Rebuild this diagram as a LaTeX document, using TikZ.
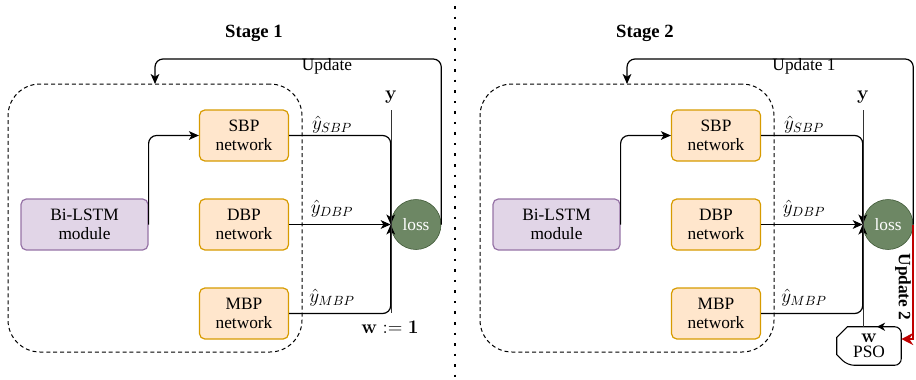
\documentclass[tikz,border=0pt]{standalone}
\usepackage[no-math]{fontspec}
\setmainfont{Liberation Serif}
\usetikzlibrary{arrows.meta}

\definecolor{netfill}{HTML}{FFE6CC}
\definecolor{netline}{HTML}{D79B00}
\definecolor{lstmfill}{HTML}{E1D5E7}
\definecolor{lstmline}{HTML}{9673A6}
\definecolor{lossfill}{HTML}{6D8764}
\definecolor{lossline}{HTML}{3A5431}
\definecolor{updred}{HTML}{C00000}

\tikzset{
  body/.style={font=\fontsize{13}{14.5}\selectfont},
  netbox/.style={draw=netline, fill=netfill, line width=0.9pt, rounded corners=4pt,
    minimum width=66.75pt, minimum height=38.25pt, align=center, inner sep=1pt, body},
  lstmbox/.style={draw=lstmline, fill=lstmfill, line width=0.9pt, rounded corners=4pt,
    minimum width=95.25pt, minimum height=38.25pt, align=center, inner sep=1pt, body},
  lossnode/.style={circle, draw=lossline, fill=lossfill, minimum size=37.5pt,
    inner sep=0pt, text=white, body},
  container/.style={draw, dashed, dash pattern=on 3pt off 2.2pt, line width=0.75pt,
    rounded corners=24pt},
  arr/.style={draw, line width=0.9pt, -{Stealth[length=7.5pt,width=6.5pt,inset=2pt]}},
  thinline/.style={draw, line width=0.75pt, draw=black!80},
  lbl/.style={body, inner sep=0pt},
  boldlbl/.style={font=\fontsize{15}{17}\selectfont, inner sep=0pt},
  mlbl/.style={font=\fontsize{14}{16}\selectfont, inner sep=0pt},
  stagetitle/.style={font=\bfseries\fontsize{14}{16}\selectfont, inner sep=0pt},
  psobox/.style={minimum width=48pt, minimum height=28.5pt, inner sep=0pt,
    align=center, body},
}

\begin{document}
\begin{tikzpicture}[x=0.75pt, y=-0.75pt]
\useasboundingbox (0,0) rectangle (916,379);

% dotted separator between the two stages
\draw[line width=1.9pt, dash pattern=on 1.9pt off 6pt] (455,6) -- (455,379);

% stage titles
\node[stagetitle] (t1) at (254,33) {Stage 1};
\node[stagetitle] (t2) at (645,33) {Stage 2};

% the part shared by both stages
\foreach \s/\dx in {1/0, 2/472}{
  \begin{scope}[xshift=\dx*0.75pt]
    \node[container, minimum width=220.5pt, minimum height=201pt] (cont\s) at (155,218) {};
    \node[lstmbox] (lstm\s) at (84.5,224.5) {Bi-LSTM\\module};
    \node[netbox] (sbp\s) at (244,135.5) {SBP\\network};
    \node[netbox] (dbp\s) at (244,224.5) {DBP\\network};
    \node[netbox] (mbp\s) at (244,313.5) {MBP\\network};
    \node[lossnode] (loss\s) at (416,224.5) {loss};
    \node[boldlbl] (ylab\s) at (391,97) {$\mathbf{y}$};
    \coordinate (ytop\s) at (391,110);
    \coordinate (upd\s) at (155,84);
    \coordinate (turn\s) at (155,59);

    \node[mlbl] (ls\s) at (332,125) {$\hat{y}_{SBP}$};
    \node[mlbl] (ld\s) at (332,209) {$\hat{y}_{DBP}$};
    \node[mlbl] (lm\s) at (332,298) {$\hat{y}_{MBP}$};

    \draw[arr, rounded corners=6pt] (lstm\s.east) |- (sbp\s.west);
    \draw[arr, rounded corners=6pt] (sbp\s.east) -| (loss\s.west);
    \draw[arr] (dbp\s.east) -- (loss\s.west);
    \draw[arr, rounded corners=6pt] (mbp\s.east) -| (loss\s.west);
    \draw[arr, rounded corners=6pt] (loss\s.east) |- (turn\s) -- (upd\s);
  \end{scope}
}

% stage 1: fixed weights
\coordinate (ybot1) at (391,313);
\draw[thinline] (ytop1) -- (ybot1);
\node[boldlbl] (w1) at (390,327) {$\mathbf{w}\mathrel{\mathbf{:=}}\mathbf{1}$};
\node[lbl] (u1) at (327,66) {Update};

% stage 2: weights tuned by PSO
\node[lbl] (u2) at (804,66) {Update 1};
\node[psobox] (pso) at (869,346) {\fontsize{15}{15}\selectfont$\mathbf{w}$\\[-3pt]\fontsize{13}{14}\selectfont PSO};
% PSO outline: cut corners on the left, rounded ones on the right
\draw[line width=0.8pt]
  ([xshift=8pt]pso.north west) [rounded corners=5pt] -- (pso.north east)
  -- (pso.south east) -- ([xshift=8pt]pso.south west) [sharp corners]
  -- ([yshift=8pt]pso.south west) -- ([yshift=-8pt]pso.north west) -- cycle;
\draw[thinline] (ytop2) -- (ytop2 |- pso.north);
\draw[line width=0.9pt, -{Stealth[length=6pt,width=6pt,inset=1.8pt]}]
  ([xshift=18pt]pso.north) -- ([xshift=6pt]pso.north);
\draw[updred, line width=1.4pt, -{Stealth[length=9pt,width=9pt,inset=3pt]}]
  (loss2.east) |- ([yshift=5.25pt]pso.east);
\node[lbl, font=\bfseries\fontsize{13}{14.5}\selectfont, rotate=-90] (u3) at (903,287) {Update 2};
\end{tikzpicture}
\end{document}
